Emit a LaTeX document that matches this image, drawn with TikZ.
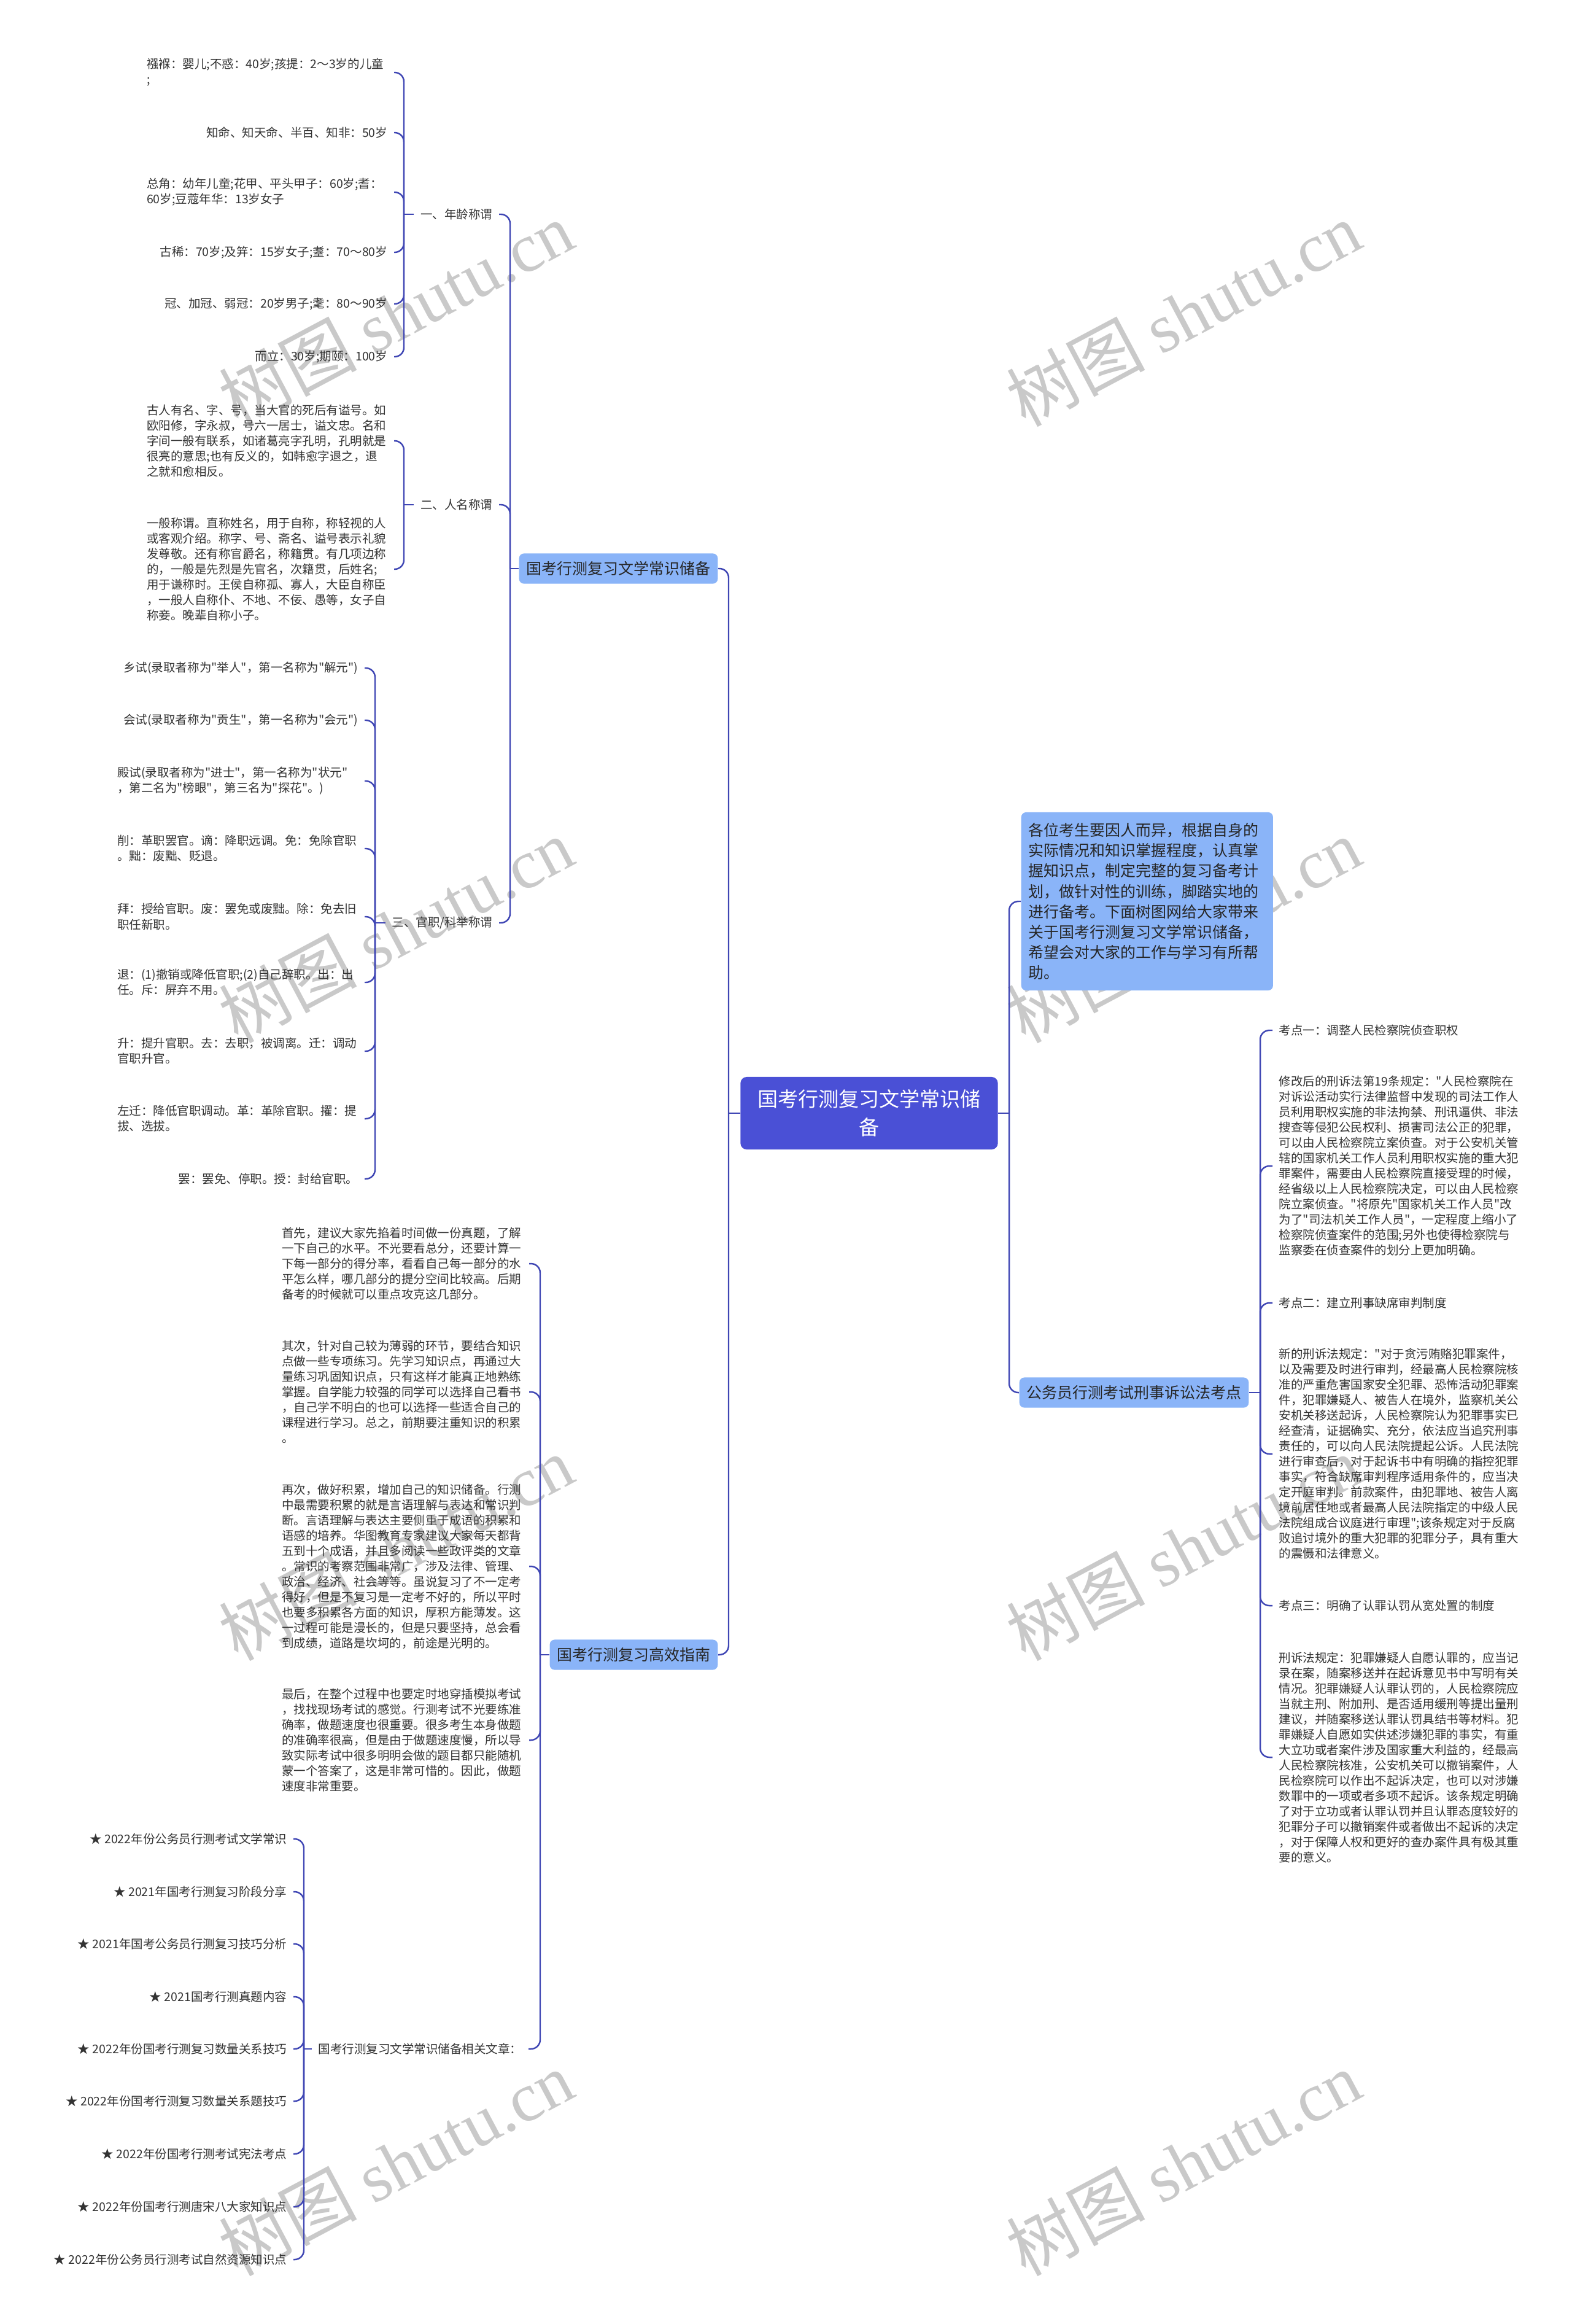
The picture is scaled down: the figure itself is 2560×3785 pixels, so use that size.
\documentclass[tikz,border=0pt]{standalone}
\usepackage{fontspec}
\newfontfamily\cjk{Noto Sans CJK SC}
\newfontfamily\wmlatin{Liberation Serif}
\definecolor{linkblue}{HTML}{3F46B4}
\definecolor{rootblue}{HTML}{4A50D6}
\definecolor{subblue}{HTML}{8AB4F8}
\definecolor{txtgray}{HTML}{333333}
\newcommand\leaffont{\cjk\fontsize{5.55pt}{7.11pt}\selectfont}
\newcommand\subfont{\cjk\fontsize{7.1pt}{9.4pt}\selectfont}
\newcommand\rootfont{\cjk\fontsize{9.4pt}{13.1pt}\selectfont}
\newcommand\wmfont{\cjk\fontsize{32pt}{32pt}\selectfont}

\begin{document}
\begin{tikzpicture}[x=0.01cm,y=-0.01cm,
  link/.style={draw=linkblue,line width=0.7pt,rounded corners=0.15cm},
  elbow/.style={link,to path={|- (\tikztotarget)}},
  leaf/.style={font=\leaffont,text=txtgray,align=left,inner xsep=0.1cm,inner ysep=0.03cm},
  para/.style={leaf,text width=3.92cm},
  sub/.style={font=\subfont,text=black!85,fill=subblue,rounded corners=0.08cm,inner xsep=0.12cm,inner ysep=0.13cm,align=left},
  rootbox/.style={font=\rootfont,text=white,fill=rootblue,rounded corners=0.1cm,align=center,minimum width=4.19cm,minimum height=1.18cm},
  wm/.style={font=\wmfont,text=black!21,rotate=28}]
\useasboundingbox (0,0) rectangle (2560,3785);
\fill[white] (0,0) rectangle (2560,3785);

% watermarks
\node[wm] (w1) at (645,511) {树图 {\wmlatin shutu.cn}};
\node[wm] (w2) at (1928,511) {树图 {\wmlatin shutu.cn}};
\node[wm] (w3) at (645,1515) {树图 {\wmlatin shutu.cn}};
\node[wm] (w4) at (1928,1515) {树图 {\wmlatin shutu.cn}};
\node[wm] (w5) at (645,2521) {树图 {\wmlatin shutu.cn}};
\node[wm] (w6) at (1928,2521) {树图 {\wmlatin shutu.cn}};
\node[wm] (w7) at (645,3523) {树图 {\wmlatin shutu.cn}};
\node[wm] (w8) at (1928,3523) {树图 {\wmlatin shutu.cn}};

% centre and main branches
\node[rootbox] (root) at (1416,1813) {国考行测复习文学常识储\\备};
\node[sub,anchor=east] (b1) at (1170,926) {国考行测复习文学常识储备};
\node[sub,anchor=east] (b2) at (1170,2695) {国考行测复习高效指南};
\node[sub,anchor=west,text width=3.86cm,minimum height=2.9cm] (r1) at (1663,1468) {各位考生要因人而异，根据自身的\\实际情况和知识掌握程度，认真掌\\握知识点，制定完整的复习备考计\\划，做针对性的训练，脚踏实地的\\进行备考。下面树图网给大家带来\\关于国考行测复习文学常识储备，\\希望会对大家的工作与学习有所帮\\助。};
\node[sub,anchor=west] (r2) at (1660,2268) {公务员行测考试刑事诉讼法考点};

\coordinate (jm) at (1187,1813);
\coordinate (jR) at (1644,1813);
\coordinate (j1) at (831,926);
\coordinate (j2) at (880,2695);
\coordinate (ja) at (658,349);
\coordinate (jn) at (658,822);
\coordinate (jg) at (611,1503);
\coordinate (jr) at (495,3337);
\coordinate (jk) at (2053,2268);

% branch one
\node[leaf,anchor=east] (g1) at (813,349) {一、年龄称谓};
\node[leaf,anchor=east] (g2) at (813,822) {二、人名称谓};
\node[leaf,anchor=east] (g3) at (813,1503) {三、官职/科举称谓};

\node[para,anchor=east] (a1) at (642,118) {襁褓：婴儿;不惑：40岁;孩提：2～3岁的儿童\\;};
\node[leaf,anchor=east] (a2) at (642,216) {知命、知天命、半百、知非：50岁};
\node[para,anchor=east] (a3) at (642,313) {总角：幼年儿童;花甲、平头甲子：60岁;耆：\\60岁;豆蔻年华：13岁女子};
\node[leaf,anchor=east] (a4) at (642,411) {古稀：70岁;及笄：15岁女子;耋：70～80岁};
\node[leaf,anchor=east] (a5) at (642,495) {冠、加冠、弱冠：20岁男子;耄：80～90岁};
\node[leaf,anchor=east] (a6) at (642,581) {而立：30岁;期颐：100岁};

\node[para,anchor=east] (n1) at (642,718) {古人有名、字、号，当大官的死后有谥号。如\\欧阳修，字永叔，号六一居士，谥文忠。名和\\字间一般有联系，如诸葛亮字孔明，孔明就是\\很亮的意思;也有反义的，如韩愈字退之，退\\之就和愈相反。};
\node[para,anchor=east] (n2) at (642,927) {一般称谓。直称姓名，用于自称，称轻视的人\\或客观介绍。称字、号、斋名、谥号表示礼貌\\发尊敬。还有称官爵名，称籍贯。有几项边称\\的，一般是先烈是先官名，次籍贯，后姓名;\\用于谦称时。王侯自称孤、寡人，大臣自称臣\\，一般人自称仆、不地、不佞、愚等，女子自\\称妾。晚辈自称小子。};

\node[leaf,anchor=east] (o1) at (594,1088) {乡试(录取者称为"举人"，第一名称为"解元")};
\node[leaf,anchor=east] (o2) at (594,1173) {会试(录取者称为"贡生"，第一名称为"会元")};
\node[para,anchor=east] (o3) at (594,1272) {殿试(录取者称为"进士"，第一名称为"状元"\\，第二名为"榜眼"，第三名为"探花"。)};
\node[para,anchor=east] (o4) at (594,1382) {削：革职罢官。谪：降职远调。免：免除官职\\。黜：废黜、贬退。};
\node[para,anchor=east] (o5) at (594,1493) {拜：授给官职。废：罢免或废黜。除：免去旧\\职任新职。};
\node[para,anchor=east] (o6) at (594,1600) {退：(1)撤销或降低官职;(2)自己辞职。出：出\\任。斥：屏弃不用。};
\node[para,anchor=east] (o7) at (594,1712) {升：提升官职。去：去职，被调离。迁：调动\\官职升官。};
\node[para,anchor=east] (o8) at (594,1822) {左迁：降低官职调动。革：革除官职。擢：提\\拔、选拔。};
\node[leaf,anchor=east] (o9) at (594,1920) {罢：罢免、停职。授：封给官职。};

% branch two
\node[para,anchor=east] (t1) at (862,2058) {首先，建议大家先掐着时间做一份真题，了解\\一下自己的水平。不光要看总分，还要计算一\\下每一部分的得分率，看看自己每一部分的水\\平怎么样，哪几部分的提分空间比较高。后期\\备考的时候就可以重点攻克这几部分。};
\node[para,anchor=east] (t2) at (862,2267) {其次，针对自己较为薄弱的环节，要结合知识\\点做一些专项练习。先学习知识点，再通过大\\量练习巩固知识点，只有这样才能真正地熟练\\掌握。自学能力较强的同学可以选择自己看书\\，自己学不明白的也可以选择一些适合自己的\\课程进行学习。总之，前期要注重知识的积累\\。};
\node[para,anchor=east] (t3) at (862,2551) {再次，做好积累，增加自己的知识储备。行测\\中最需要积累的就是言语理解与表达和常识判\\断。言语理解与表达主要侧重于成语的积累和\\语感的培养。华图教育专家建议大家每天都背\\五到十个成语，并且多阅读一些政评类的文章\\。常识的考察范围非常广，涉及法律、管理、\\政治、经济、社会等等。虽说复习了不一定考\\得好，但是不复习是一定考不好的，所以平时\\也要多积累各方面的知识，厚积方能薄发。这\\一过程可能是漫长的，但是只要坚持，总会看\\到成绩，道路是坎坷的，前途是光明的。};
\node[para,anchor=east] (t4) at (862,2834) {最后，在整个过程中也要定时地穿插模拟考试\\，找找现场考试的感觉。行测考试不光要练准\\确率，做题速度也很重要。很多考生本身做题\\的准确率很高，但是由于做题速度慢，所以导\\致实际考试中很多明明会做的题目都只能随机\\蒙一个答案了，这是非常可惜的。因此，做题\\速度非常重要。};
\node[leaf,anchor=east] (rel) at (861,3337) {国考行测复习文学常识储备相关文章：};

\node[leaf,anchor=east] (s1) at (478,2995) {★ 2022年份公务员行测考试文学常识};
\node[leaf,anchor=east] (s2) at (478,3081) {★ 2021年国考行测复习阶段分享};
\node[leaf,anchor=east] (s3) at (478,3166) {★ 2021年国考公务员行测复习技巧分析};
\node[leaf,anchor=east] (s4) at (478,3252) {★ 2021国考行测真题内容};
\node[leaf,anchor=east] (s5) at (478,3337) {★ 2022年份国考行测复习数量关系技巧};
\node[leaf,anchor=east] (s6) at (478,3422) {★ 2022年份国考行测复习数量关系题技巧};
\node[leaf,anchor=east] (s7) at (478,3508) {★ 2022年份国考行测考试宪法考点};
\node[leaf,anchor=east] (s8) at (478,3594) {★ 2022年份国考行测唐宋八大家知识点};
\node[leaf,anchor=east] (s9) at (478,3680) {★ 2022年份公务员行测考试自然资源知识点};

% right branch
\node[leaf,anchor=west] (k1) at (2073,1678) {考点一：调整人民检察院侦查职权};
\node[para,anchor=west] (p1) at (2073,1899) {修改后的刑诉法第19条规定："人民检察院在\\对诉讼活动实行法律监督中发现的司法工作人\\员利用职权实施的非法拘禁、刑讯逼供、非法\\搜查等侵犯公民权利、损害司法公正的犯罪，\\可以由人民检察院立案侦查。对于公安机关管\\辖的国家机关工作人员利用职权实施的重大犯\\罪案件，需要由人民检察院直接受理的时候，\\经省级以上人民检察院决定，可以由人民检察\\院立案侦查。"将原先"国家机关工作人员"改\\为了"司法机关工作人员"，一定程度上缩小了\\检察院侦查案件的范围;另外也使得检察院与\\监察委在侦查案件的划分上更加明确。};
\node[leaf,anchor=west] (k2) at (2073,2122) {考点二：建立刑事缺席审判制度};
\node[para,anchor=west] (p2) at (2073,2368) {新的刑诉法规定："对于贪污贿赂犯罪案件，\\以及需要及时进行审判，经最高人民检察院核\\准的严重危害国家安全犯罪、恐怖活动犯罪案\\件，犯罪嫌疑人、被告人在境外，监察机关公\\安机关移送起诉，人民检察院认为犯罪事实已\\经查清，证据确实、充分，依法应当追究刑事\\责任的，可以向人民法院提起公诉。人民法院\\进行审查后，对于起诉书中有明确的指控犯罪\\事实，符合缺席审判程序适用条件的，应当决\\定开庭审判。前款案件，由犯罪地、被告人离\\境前居住地或者最高人民法院指定的中级人民\\法院组成合议庭进行审理";该条规定对于反腐\\败追讨境外的重大犯罪的犯罪分子，具有重大\\的震慑和法律意义。};
\node[leaf,anchor=west] (k3) at (2073,2615) {考点三：明确了认罪认罚从宽处置的制度};
\node[para,anchor=west] (p3) at (2073,2862) {刑诉法规定：犯罪嫌疑人自愿认罪的，应当记\\录在案，随案移送并在起诉意见书中写明有关\\情况。犯罪嫌疑人认罪认罚的，人民检察院应\\当就主刑、附加刑、是否适用缓刑等提出量刑\\建议，并随案移送认罪认罚具结书等材料。犯\\罪嫌疑人自愿如实供述涉嫌犯罪的事实，有重\\大立功或者案件涉及国家重大利益的，经最高\\人民检察院核准，公安机关可以撤销案件，人\\民检察院可以作出不起诉决定，也可以对涉嫌\\数罪中的一项或者多项不起诉。该条规定明确\\了对于立功或者认罪认罚并且认罪态度较好的\\犯罪分子可以撤销案件或者做出不起诉的决定\\，对于保障人权和更好的查办案件具有极其重\\要的意义。};

% connectors
\path
(root.west) edge[link] (jm)
(jm) edge[elbow] (b1.east)
(jm) edge[elbow] (b2.east)
(root.east) edge[link] (jR)
(jR) edge[elbow] (r1.west)
(jR) edge[elbow] (r2.west);
\path
(b1.west) edge[link] (j1)
(j1) edge[elbow] (g1.east)
(j1) edge[elbow] (g2.east)
(j1) edge[elbow] (g3.east)
(g1.west) edge[link] (ja)
(ja) edge[elbow] (a1.east)
(ja) edge[elbow] (a2.east)
(ja) edge[elbow] (a3.east)
(ja) edge[elbow] (a4.east)
(ja) edge[elbow] (a5.east)
(ja) edge[elbow] (a6.east)
(g2.west) edge[link] (jn)
(jn) edge[elbow] (n1.east)
(jn) edge[elbow] (n2.east)
(g3.west) edge[link] (jg)
(jg) edge[elbow] (o1.east)
(jg) edge[elbow] (o2.east)
(jg) edge[elbow] (o3.east)
(jg) edge[elbow] (o4.east)
(jg) edge[elbow] (o5.east)
(jg) edge[elbow] (o6.east)
(jg) edge[elbow] (o7.east)
(jg) edge[elbow] (o8.east)
(jg) edge[elbow] (o9.east);
\path
(b2.west) edge[link] (j2)
(j2) edge[elbow] (t1.east)
(j2) edge[elbow] (t2.east)
(j2) edge[elbow] (t3.east)
(j2) edge[elbow] (t4.east)
(j2) edge[elbow] (rel.east)
(rel.west) edge[link] (jr)
(jr) edge[elbow] (s1.east)
(jr) edge[elbow] (s2.east)
(jr) edge[elbow] (s3.east)
(jr) edge[elbow] (s4.east)
(jr) edge[elbow] (s5.east)
(jr) edge[elbow] (s6.east)
(jr) edge[elbow] (s7.east)
(jr) edge[elbow] (s8.east)
(jr) edge[elbow] (s9.east);
\path
(r2.east) edge[link] (jk)
(jk) edge[elbow] (k1.west)
(jk) edge[elbow] (p1.west)
(jk) edge[elbow] (k2.west)
(jk) edge[elbow] (p2.west)
(jk) edge[elbow] (k3.west)
(jk) edge[elbow] (p3.west);
\end{tikzpicture}
\end{document}
